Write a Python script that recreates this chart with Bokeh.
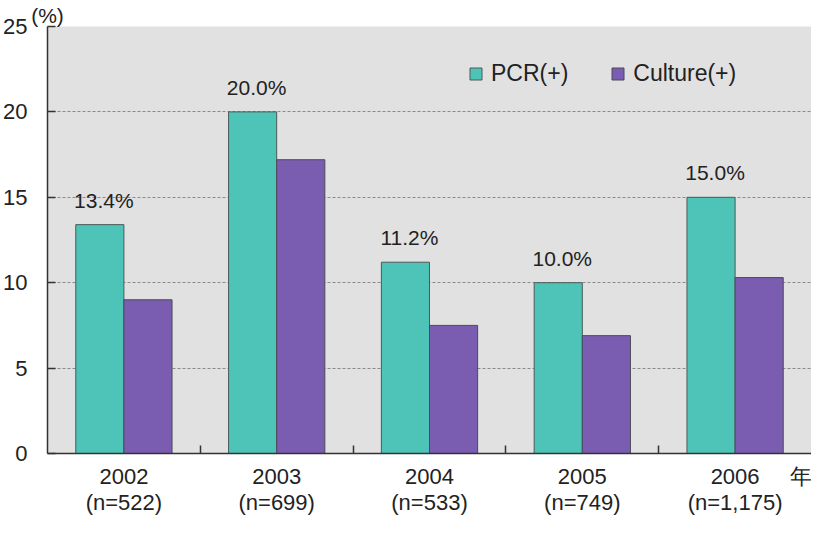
from bokeh.plotting import figure
from bokeh.models import (Range1d, FixedTicker, Legend, LegendItem,
                          ColumnDataSource, LinearAxis)
from bokeh.core.properties import value
from bokeh.embed import file_html
from bokeh.resources import INLINE

# ---- data ----
years = ["2002", "2003", "2004", "2005", "2006"]
n_counts = ["522", "699", "533", "749", "1,175"]
pcr = [13.4, 20.0, 11.2, 10.0, 15.0]
culture = [9.0, 17.2, 7.5, 6.9, 10.3]
y_ticks = [0, 5, 10, 15, 20, 25]
grid_ticks = [5, 10, 15, 20]
series_names = ["PCR(+)", "Culture(+)"]
y_unit = "(%)"
x_unit = "年"

FONT = "Liberation Sans"
TEAL = "#4EC4B8"
PURPLE = "#7A5DB0"
TXT = "#222222"
AX = "#333333"

centers = [2 * i + 1 for i in range(len(years))]
bounds = [2 * i for i in range(1, len(years))]
x_max = 2 * len(years)
unit_x = x_max - 0.12
bw = 0.63

src = ColumnDataSource(dict(
    pcr_x=[c - bw / 2 for c in centers],
    cul_x=[c + bw / 2 for c in centers],
    pcr=pcr,
    culture=culture,
    lab=[f"{v:.1f}%" for v in pcr],
))

p = figure(width=811, height=517, x_range=Range1d(0, x_max),
           y_range=Range1d(0, 25), output_backend="svg", toolbar_location=None,
           min_border_left=45, min_border_right=0, min_border_top=0,
           min_border_bottom=0, background_fill_color="#E1E1E1",
           border_fill_color="white", outline_line_color=None)

r1 = p.vbar(x="pcr_x", top="pcr", bottom=0, width=bw, source=src,
            fill_color=TEAL, line_color="#4a5a58", line_width=1)
r2 = p.vbar(x="cul_x", top="culture", bottom=0, width=bw, source=src,
            fill_color=PURPLE, line_color="#4a4a5a", line_width=1)

p.text(x="pcr_x", y="pcr", text="lab", source=src, text_align="center",
       text_baseline="bottom", x_offset=4, y_offset=-13,
       text_font=value(FONT), text_font_size="21px", text_color=TXT)

# x axis: year line + unit
xa = p.xaxis[0]
xa.ticker = FixedTicker(ticks=centers + [unit_x], minor_ticks=bounds)
ov = {c: y for c, y in zip(centers, years)}
ov[unit_x] = x_unit
xa.major_label_overrides = ov
xa.major_tick_line_color = None
xa.major_tick_in = 0
xa.major_tick_out = 0
xa.minor_tick_in = 8
xa.minor_tick_out = 0
xa.minor_tick_line_color = AX
xa.minor_tick_line_width = 1.5
xa.axis_line_color = AX
xa.axis_line_width = 1.5
xa.major_label_standoff = 10
xa.major_label_text_font = FONT
xa.major_label_text_font_size = "22px"
xa.major_label_text_color = TXT

# second row of x labels: sample sizes
xa2 = LinearAxis(ticker=FixedTicker(ticks=centers, minor_ticks=[]),
                 major_label_overrides={c: f"(n={n})" for c, n in zip(centers, n_counts)},
                 axis_line_color=None, major_tick_line_color=None,
                 minor_tick_line_color=None, major_tick_in=0, major_tick_out=0,
                 minor_tick_in=0, minor_tick_out=0, major_label_standoff=-2,
                 major_label_text_font=FONT, major_label_text_font_size="22px",
                 major_label_text_color=TXT)
p.add_layout(xa2, "below")

# y axis
ya = p.yaxis[0]
ya.ticker = FixedTicker(ticks=y_ticks)
ya.major_tick_in = 8
ya.major_tick_out = 0
ya.minor_tick_in = 0
ya.minor_tick_out = 0
ya.major_tick_line_color = AX
ya.major_tick_line_width = 1.5
ya.minor_tick_line_color = None
ya.axis_line_color = AX
ya.axis_line_width = 1.5
ya.major_label_standoff = 20
ya.major_label_text_font = FONT
ya.major_label_text_font_size = "22px"
ya.major_label_text_color = TXT

# unit "(%)" above the y axis
ta = LinearAxis(ticker=FixedTicker(ticks=[0], minor_ticks=[]),
                major_label_overrides={0: y_unit},
                axis_line_color=None, major_tick_line_color=None,
                minor_tick_line_color=None, major_tick_in=0, major_tick_out=0,
                minor_tick_in=0, minor_tick_out=0, major_label_standoff=0,
                major_label_text_font=FONT, major_label_text_font_size="21px",
                major_label_text_color=TXT)
p.add_layout(ta, "above")

p.xgrid.visible = False
p.ygrid.ticker = FixedTicker(ticks=grid_ticks)
p.ygrid.grid_line_color = "#8a8a8a"
p.ygrid.grid_line_dash = "3 2"
p.ygrid.grid_line_width = 1

legend = Legend(items=[LegendItem(label=series_names[0], renderers=[r1]),
                       LegendItem(label=series_names[1], renderers=[r2])],
                orientation="horizontal", location=(421, 366),
                border_line_color=None, background_fill_alpha=0,
                padding=0, margin=0, spacing=42, glyph_width=15,
                glyph_height=15, label_standoff=8,
                label_text_font=FONT, label_text_font_size="23px",
                label_text_color=TXT)
p.add_layout(legend)

open("out.html", "w").write(file_html(p, INLINE))
